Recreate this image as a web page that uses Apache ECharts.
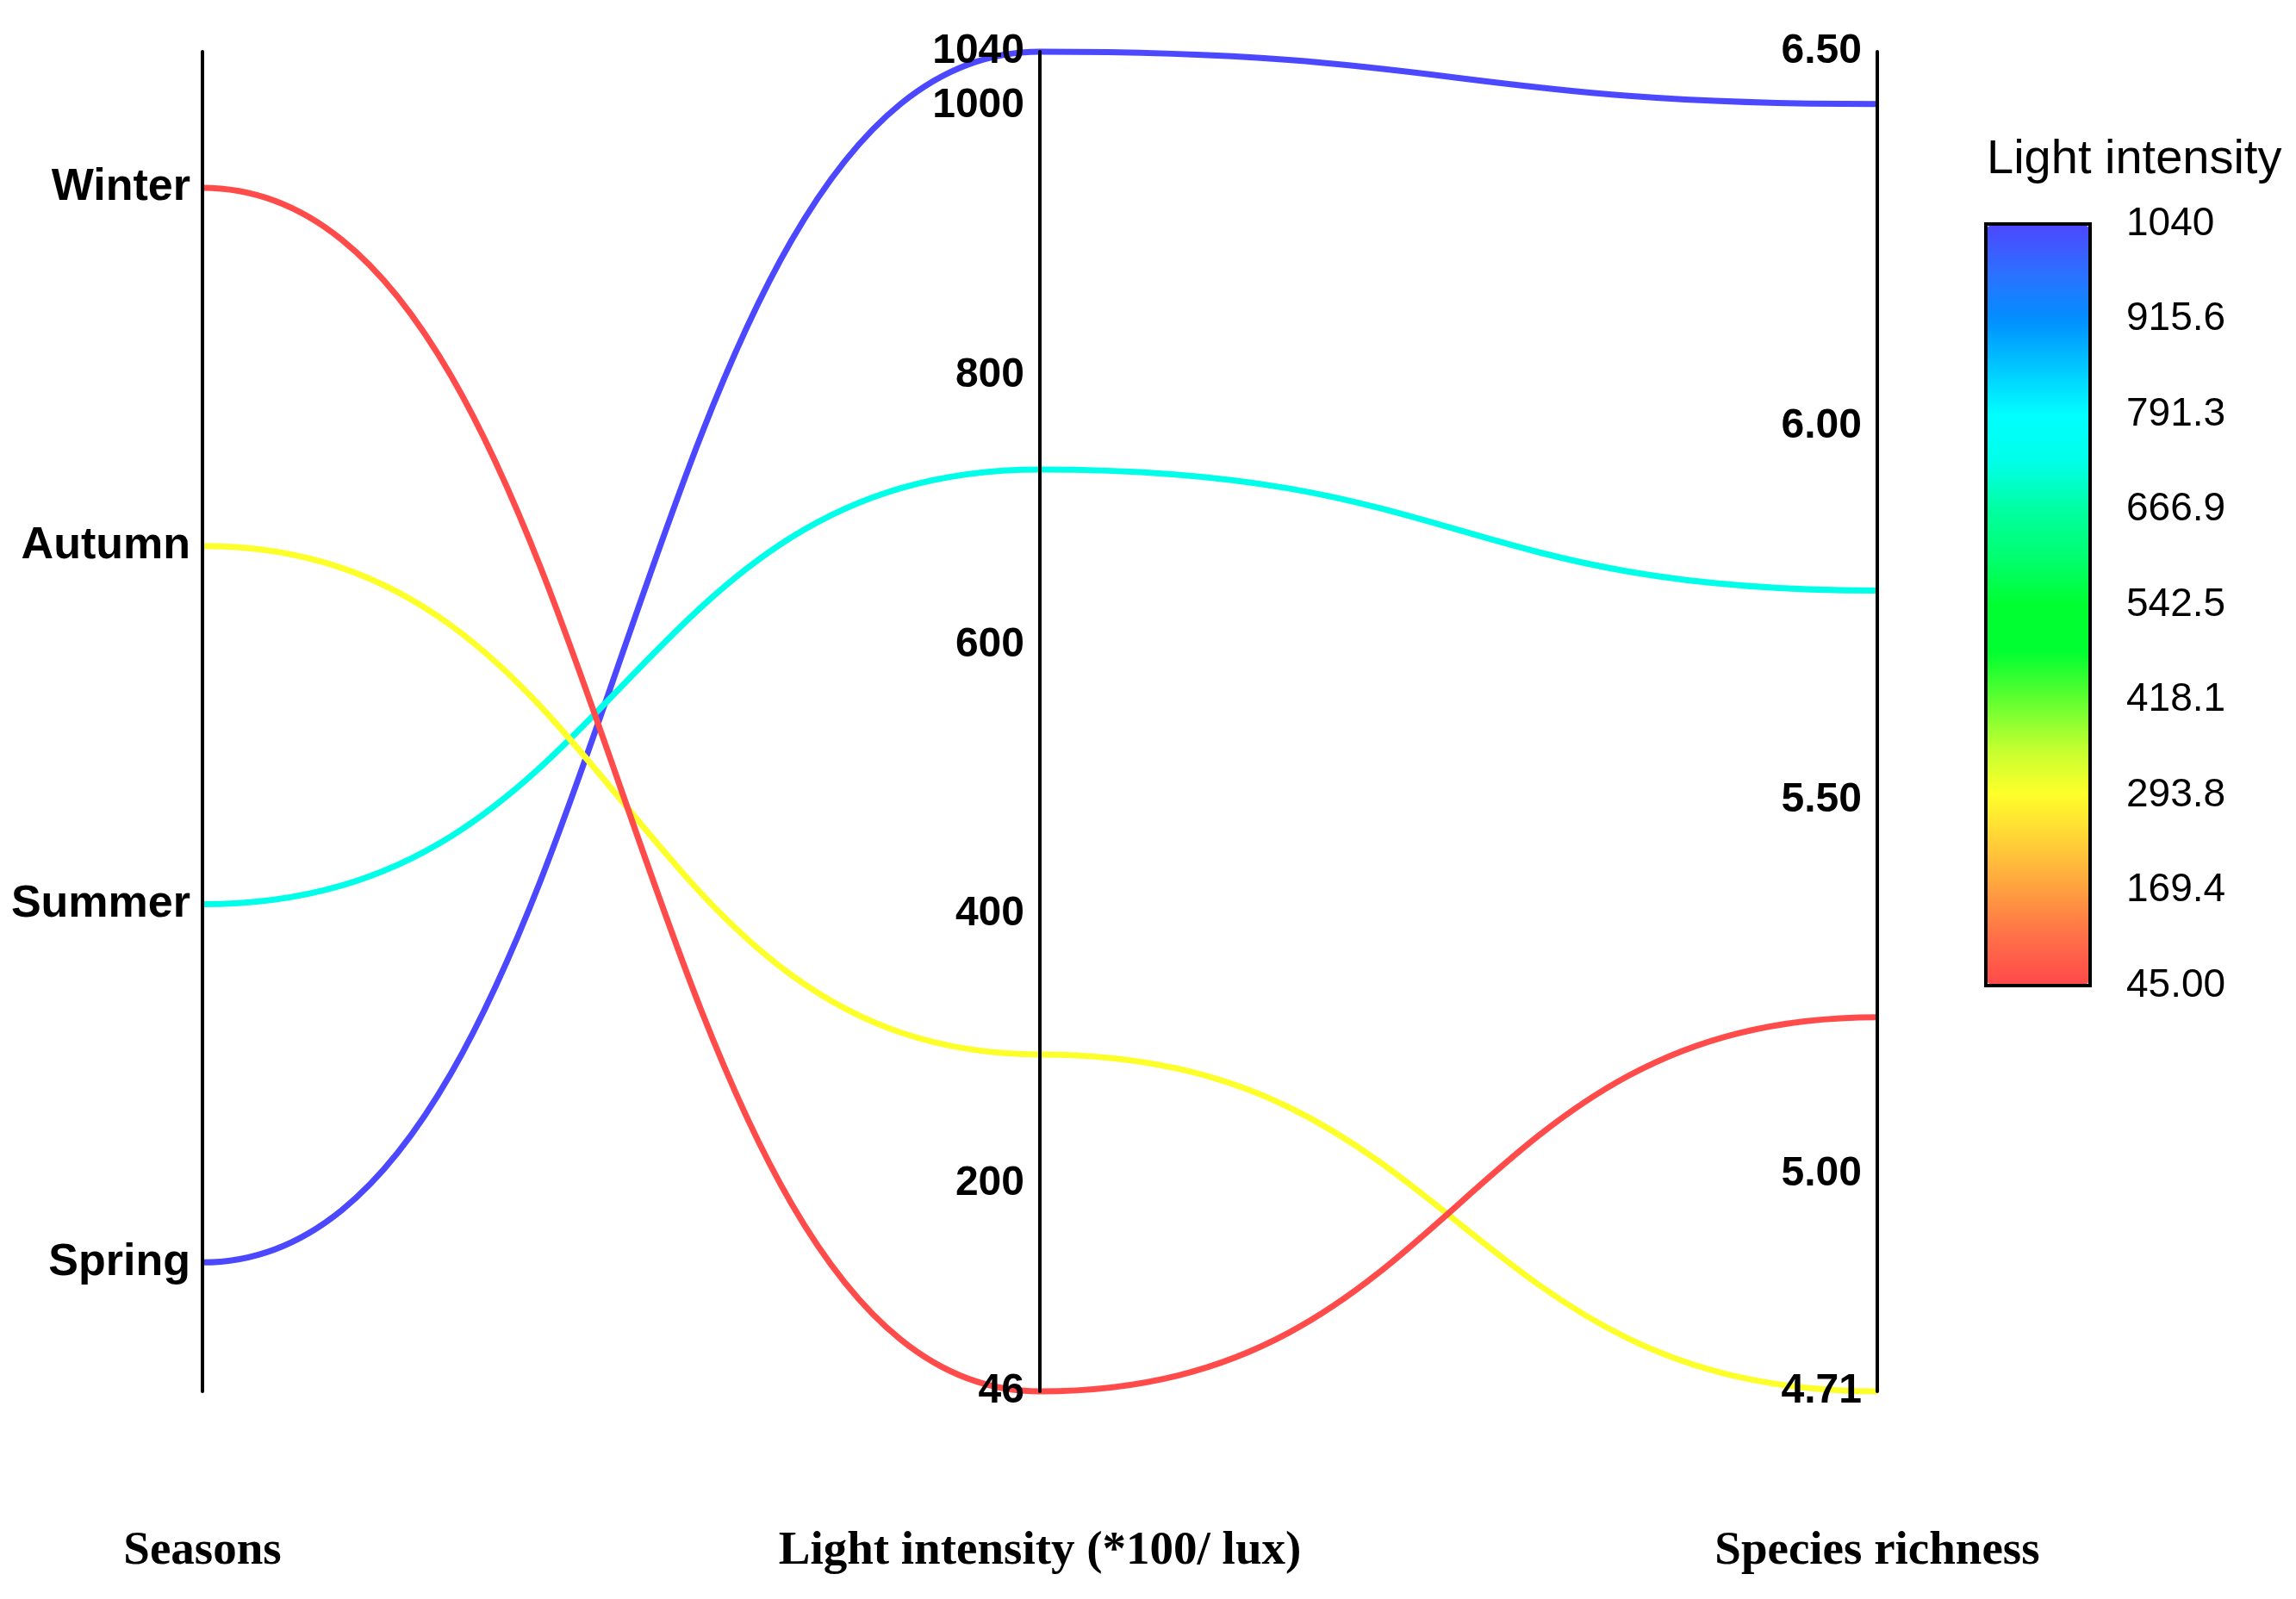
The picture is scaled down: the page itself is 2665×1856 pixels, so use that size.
<!DOCTYPE html>
<html>
<head>
<meta charset="utf-8">
<script src="https://cdn.jsdelivr.net/npm/echarts@6/dist/echarts.min.js"></script>
<style>
  html, body { margin: 0; padding: 0; background: #fff; }
  #container { width: 2665px; height: 1856px; }
</style>
</head>
<body>
<div id="container"></div>
<script>
// seasons listed bottom to top on the first axis
var seasons = ['Spring', 'Summer', 'Autumn', 'Winter'];
var lightIntensity = [1040, 730, 296, 46];
var speciesRichness = [6.43, 5.78, 4.71, 5.21];

var lightTicks = [46, 200, 400, 600, 800, 1000, 1040];
var richnessTicks = [4.71, 5.00, 5.50, 6.00, 6.50];
var colorTicks = [45, 169.4, 293.8, 418.1, 542.5, 666.9, 791.3, 915.6, 1040];
// evenly spaced from 45 to 1040, low to high
var colorStops = [
  '#ff4a4a', '#ff7048', '#ffa040', '#ffd038', '#ffff2a', '#c0ff30',
  '#60ff30', '#00ff30', '#00ff30', '#00ff70', '#00ffa0', '#00ffe8',
  '#00ffff', '#00c8ff', '#0090ff', '#2c70ff', '#4c48ff'
];

var rows = [];
for (var i = 0; i < seasons.length; ++i) {
  rows.push([i + 1, lightIntensity[i], speciesRichness[i]]);
}

var dom = document.getElementById('container');
var myChart = echarts.init(dom);

var labelFont = 'Liberation Sans, Arial, sans-serif';
var nameStyle = {
  fontFamily: 'Liberation Serif, Times New Roman, serif',
  fontWeight: 'bold',
  fontSize: 55,
  color: '#000'
};

var option = {
  animation: false,
  title: {
    text: 'Light intensity',
    left: 2306,
    top: 158,
    padding: 0,
    textStyle: { fontFamily: labelFont, fontWeight: 'normal', fontSize: 56, color: '#000' }
  },
  parallel: {
    left: 235,
    right: 486,
    top: 60,
    bottom: 241,
    parallelAxisDefault: {
      nameLocation: 'start',
      nameGap: 158,
      nameTextStyle: nameStyle,
      axisLine: { lineStyle: { color: '#000', width: 4 } },
      axisTick: { show: false },
      splitLine: { show: false },
      axisLabel: {
        fontFamily: labelFont,
        fontWeight: 'bold',
        fontSize: 48,
        color: '#000',
        align: 'right',
        margin: -18
      }
    }
  },
  parallelAxis: [
    {
      dim: 0,
      name: 'Seasons',
      type: 'value',
      min: 0.64,
      max: 4.38,
      axisLabel: {
        fontSize: 52,
        margin: -14,
        customValues: [1, 2, 3, 4],
        formatter: function (v) { return seasons[Math.round(v) - 1]; }
      }
    },
    {
      dim: 1,
      name: 'Light intensity (*100/ lux)',
      type: 'value',
      min: 46,
      max: 1040,
      axisLabel: {
        customValues: lightTicks,
        formatter: function (v) { return String(v); }
      }
    },
    {
      dim: 2,
      name: 'Species richness',
      type: 'value',
      min: 4.71,
      max: 6.5,
      axisLabel: {
        customValues: richnessTicks,
        formatter: function (v) { return v.toFixed(2); }
      }
    }
  ],
  grid: {
    left: 2305,
    top: 260,
    width: 121,
    height: 884,
    show: true,
    borderColor: '#000',
    borderWidth: 4,
    backgroundColor: 'transparent'
  },
  xAxis: { type: 'value', show: false, min: 0, max: 1 },
  yAxis: {
    type: 'value',
    position: 'right',
    min: 45,
    max: 1040,
    splitLine: { show: false },
    axisLine: { show: true, lineStyle: { color: '#000', width: 4 } },
    axisTick: {
      show: true,
      length: 20,
      customValues: colorTicks,
      lineStyle: { color: '#000', width: 4 }
    },
    axisLabel: {
      customValues: colorTicks,
      margin: 42,
      fontFamily: labelFont,
      fontSize: 46,
      color: '#000',
      formatter: function (v) { return Number(v).toPrecision(4); }
    }
  },
  visualMap: {
    type: 'continuous',
    min: 45,
    max: 1040,
    dimension: 1,
    seriesIndex: 0,
    calculable: false,
    hoverLink: false,
    left: 2307,
    top: 262,
    padding: 0,
    itemWidth: 117,
    itemHeight: 880,
    text: null,
    inRange: { color: colorStops }
  },
  series: [
    {
      name: 'Seasons',
      type: 'parallel',
      smooth: 0.2,
      lineStyle: { width: 7, opacity: 1 },
      data: rows
    }
  ]
};

myChart.setOption(option);

// draw each segment between two axes as an S-curve with flat ends
function bumpPath(ctx, shape) {
  var pts = shape.points;
  if (!pts || !pts.length) return;
  ctx.moveTo(pts[0][0], pts[0][1]);
  for (var k = 1; k < pts.length; ++k) {
    var mx = (pts[k - 1][0] + pts[k][0]) / 2;
    ctx.bezierCurveTo(mx, pts[k - 1][1], mx, pts[k][1], pts[k][0], pts[k][1]);
  }
}

var lineData = myChart.getModel().getSeriesByIndex(0).getData();
lineData.each(function (idx) {
  var el = lineData.getItemGraphicEl(idx);
  if (el) {
    el.buildPath = bumpPath;
    el.dirtyShape();
  }
});
</script>
</body>
</html>
